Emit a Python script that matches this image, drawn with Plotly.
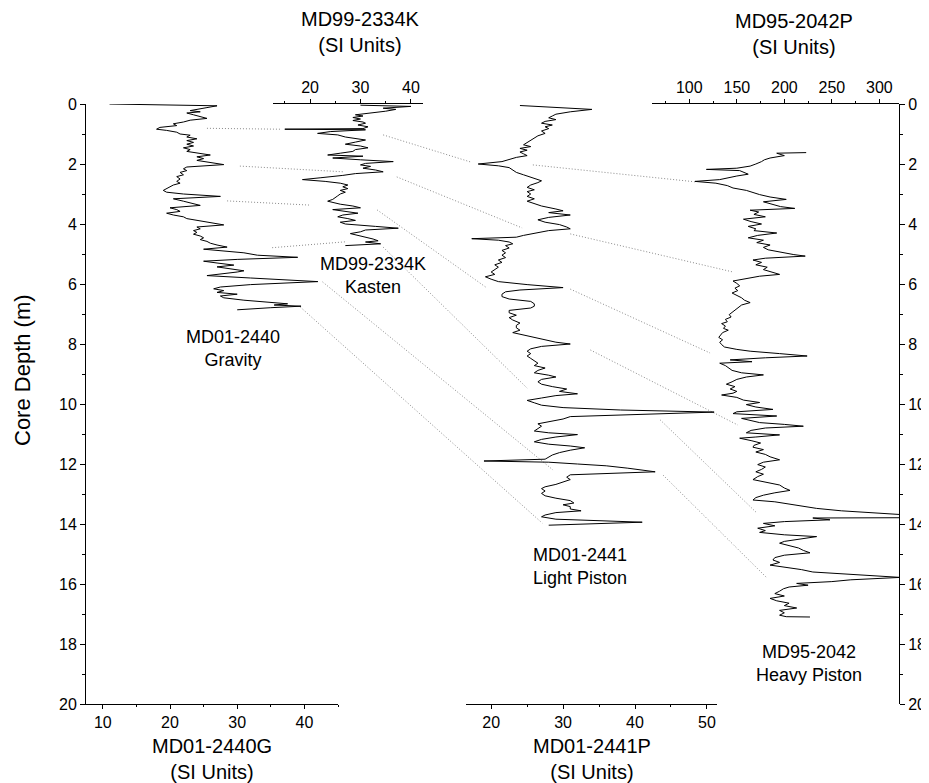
import plotly.graph_objects as go

# ---------------- data (depth in m, magnetic susceptibility in SI units) ----------------
g_depth = [0.00, 0.06, 0.12, 0.18, 0.22, 0.26, 0.30, 0.36, 0.42, 0.48, 0.54, 0.60, 0.66, 0.72, 0.78, 0.84, 0.88, 0.94,
           1.00, 1.04, 1.10, 1.16, 1.22, 1.28, 1.34, 1.40, 1.46, 1.52, 1.58, 1.64, 1.70, 1.76, 1.82, 1.88, 1.94,
           2.02, 2.10, 2.16, 2.22, 2.28, 2.36, 2.42, 2.50, 2.58, 2.64, 2.70, 2.76, 2.82, 2.88, 2.94,
           3.00, 3.08, 3.16, 3.24, 3.32, 3.38, 3.46, 3.52, 3.58, 3.64, 3.70, 3.76, 3.82, 3.90, 3.96,
           4.03, 4.10, 4.16, 4.22, 4.28, 4.34, 4.40, 4.46, 4.52, 4.58, 4.64, 4.70, 4.77, 4.84, 4.90, 4.96,
           5.04, 5.11, 5.18, 5.24, 5.30, 5.37, 5.43, 5.50, 5.56, 5.60, 5.66, 5.72, 5.80, 5.92,
           6.02, 6.10, 6.16, 6.22, 6.28, 6.34, 6.40, 6.46, 6.54, 6.62, 6.66, 6.70, 6.74, 6.79, 6.86]
g_value = [11.0, 27.0, 25.5, 24.0, 23.0, 24.5, 22.5, 23.5, 24.5, 25.5, 23.0, 22.0, 20.5, 21.0, 18.5, 18.0, 19.5, 21.0,
           21.5, 23.0, 22.5, 24.0, 22.5, 23.5, 22.5, 23.5, 22.0, 23.0, 22.5, 24.0, 26.0, 24.0, 25.0, 24.0, 26.0,
           28.0, 22.5, 22.0, 22.5, 21.5, 22.0, 21.0, 21.5, 21.0, 21.5, 20.5, 20.0, 19.5, 19.0, 19.5,
           22.0, 27.5, 20.5, 22.0, 23.5, 24.5, 20.0, 21.0, 21.5, 19.5, 20.5, 22.0, 22.5, 24.5, 26.0,
           28.0, 24.0, 24.5, 23.5, 24.0, 23.5, 24.5, 25.0, 24.5, 25.5, 26.0, 27.0, 28.5, 25.0, 27.5, 31.0,
           33.0, 39.0, 30.0, 25.0, 27.0, 29.5, 27.0, 29.0, 31.0, 30.0, 27.5, 25.5, 32.0, 42.0,
           32.0, 27.5, 26.5, 28.0, 27.0, 30.0, 27.5, 28.0, 31.0, 36.0, 37.5, 35.5, 39.5, 35.0, 30.0]

k_depth = [0.04, 0.08, 0.14, 0.18, 0.24, 0.30, 0.36, 0.40, 0.45, 0.50, 0.55, 0.60, 0.64, 0.70, 0.76, 0.82, 0.84, 0.86,
           0.92, 0.98, 1.03, 1.10, 1.16, 1.20, 1.27, 1.34, 1.40, 1.46, 1.52, 1.58, 1.64, 1.70, 1.74, 1.80, 1.86, 1.92,
           1.98, 2.03, 2.08, 2.14, 2.20, 2.26, 2.32, 2.38, 2.46, 2.52, 2.58, 2.64, 2.70, 2.76, 2.82, 2.88, 2.94,
           3.00, 3.06, 3.12, 3.18, 3.24, 3.28, 3.34, 3.40, 3.46, 3.52, 3.58, 3.64, 3.70, 3.76, 3.82, 3.88, 3.94,
           4.00, 4.08, 4.14, 4.20, 4.26, 4.32, 4.38, 4.44, 4.50, 4.56, 4.60, 4.66, 4.72]
k_value = [30.0, 40.0, 34.5, 37.0, 35.0, 31.5, 29.0, 30.5, 28.5, 30.0, 28.5, 30.5, 31.0, 29.5, 31.5, 30.5, 15.0, 31.0,
           24.0, 21.5, 25.5, 27.0, 29.5, 31.0, 29.0, 27.0, 30.0, 31.5, 29.0, 28.5, 26.0, 23.5, 30.5, 24.5, 30.0, 36.5,
           31.0, 30.0, 32.0, 30.5, 33.0, 34.5, 29.0, 26.5, 22.0, 18.5, 23.0, 26.0, 27.5, 26.5, 27.5, 26.0, 27.0,
           26.0, 25.5, 25.0, 24.5, 23.5, 24.5, 26.0, 28.5, 30.0, 24.5, 27.0, 29.5, 26.5, 25.5, 27.5, 29.0, 26.0,
           27.0, 33.0, 37.5, 31.0, 30.0, 28.0, 29.5, 31.5, 32.5, 33.5, 31.0, 34.0, 27.0]

p_depth = [0.05, 0.18, 0.26, 0.34, 0.40, 0.46, 0.52, 0.58, 0.64, 0.70, 0.76, 0.82, 0.90, 0.98, 1.06, 1.14, 1.22, 1.30,
           1.36, 1.42, 1.48, 1.54, 1.60, 1.66, 1.72, 1.78, 1.86, 1.92, 2.00, 2.06, 2.12, 2.20, 2.28, 2.36, 2.44, 2.50,
           2.56, 2.62, 2.70, 2.78, 2.86, 2.92, 3.00, 3.08, 3.16, 3.24, 3.32, 3.40, 3.50, 3.56, 3.62, 3.70, 3.78, 3.86,
           3.94, 4.02, 4.10, 4.16, 4.22, 4.30, 4.38, 4.44, 4.49, 4.54, 4.60, 4.66, 4.72, 4.80, 4.88, 4.96, 5.04, 5.12,
           5.20, 5.28, 5.36, 5.44, 5.52, 5.60, 5.68, 5.76, 5.84, 5.92, 6.02, 6.12, 6.20, 6.26, 6.34, 6.42, 6.50, 6.58,
           6.66, 6.74, 6.80, 6.88, 6.96, 7.04, 7.12, 7.20, 7.30, 7.38, 7.46, 7.54, 7.62, 7.70, 7.78, 7.86, 7.94, 8.00,
           8.08, 8.16, 8.24, 8.32, 8.40, 8.48, 8.56, 8.64, 8.72, 8.80, 8.88, 8.96, 9.04, 9.10, 9.18, 9.26, 9.34, 9.42,
           9.50, 9.58, 9.66, 9.72, 9.80, 9.88, 9.96, 10.04, 10.12, 10.20, 10.27, 10.34, 10.42, 10.50, 10.58, 10.66,
           10.74, 10.82, 10.90, 10.96, 11.02, 11.10, 11.18, 11.26, 11.34, 11.40, 11.46, 11.54, 11.62, 11.70, 11.78,
           11.84, 11.90, 11.94, 12.00, 12.06, 12.14, 12.26, 12.36, 12.44, 12.52, 12.60, 12.68, 12.76, 12.82, 12.90,
           12.98, 13.06, 13.14, 13.22, 13.30, 13.36, 13.42, 13.50, 13.56, 13.62, 13.70, 13.76, 13.84, 13.94, 14.04]
p_value = [24.0, 34.0, 31.0, 29.0, 28.5, 28.0, 29.0, 27.5, 27.0, 28.5, 27.5, 28.0, 27.0, 27.5, 26.5, 26.0, 25.5, 25.0,
           24.5, 25.5, 24.0, 25.0, 24.0, 24.5, 25.0, 23.5, 22.5, 21.5, 18.2, 21.0, 22.5, 23.0, 23.5, 24.5, 25.5, 26.5,
           27.0, 26.5, 25.5, 25.0, 26.0, 25.0, 25.5, 25.0, 26.0, 25.0, 26.0, 27.0, 29.0, 30.0, 28.0, 31.0, 28.0, 26.5,
           27.5, 29.5, 30.5, 31.0, 28.0, 26.0, 24.5, 23.5, 17.3, 21.0, 22.5, 23.0, 22.0, 22.5, 21.5, 22.0, 21.5, 22.0,
           21.0, 21.5, 20.5, 21.0, 20.5, 20.0, 20.5, 19.2, 20.0, 21.0, 25.0, 30.0, 24.0, 22.0, 21.5, 21.5, 22.5, 25.5,
           26.0, 26.0, 25.5, 22.5, 22.5, 23.5, 22.5, 23.0, 24.0, 23.5, 23.5, 24.0, 23.0, 24.5, 26.0, 27.5, 29.0, 31.0,
           27.0, 25.5, 25.0, 25.5, 25.0, 25.5, 26.0, 26.5, 26.0, 27.5, 26.5, 26.0, 28.0, 29.0, 27.0, 26.5, 27.0, 28.5,
           30.5, 29.5, 32.0, 29.0, 27.0, 25.0, 26.0, 27.0, 30.0, 38.0, 51.0, 40.0, 31.0, 30.0, 28.0, 26.5,
           27.0, 26.5, 26.0, 28.0, 32.0, 29.0, 27.0, 26.0, 28.0, 31.0, 33.0, 31.0, 29.5, 28.5, 28.0,
           27.5, 19.0, 28.0, 32.0, 36.0, 39.0, 42.8, 31.0, 30.5, 31.0, 30.0, 29.0, 27.5, 27.0, 27.5,
           27.0, 27.5, 29.0, 31.0, 31.5, 30.0, 31.0, 31.0, 32.5, 29.0, 27.5, 27.0, 29.0, 41.0, 28.0]

h_depth = [1.62, 1.64, 1.72, 1.80, 1.86, 1.92, 2.00, 2.07, 2.14, 2.18, 2.22, 2.28, 2.34, 2.40, 2.46, 2.52, 2.58, 2.64,
           2.72, 2.80, 2.88, 2.94, 3.02, 3.10, 3.18, 3.26, 3.34, 3.42, 3.48, 3.54, 3.60, 3.68, 3.76, 3.84, 3.92, 4.00,
           4.08, 4.16, 4.22, 4.30, 4.38, 4.46, 4.54, 4.62, 4.70, 4.78, 4.86, 4.94, 5.02, 5.07, 5.14, 5.20, 5.28, 5.36,
           5.44, 5.52, 5.60, 5.68, 5.74, 5.82, 5.90, 5.98, 6.06, 6.14, 6.22, 6.30, 6.38, 6.46, 6.54, 6.62, 6.70, 6.78,
           6.86, 6.94, 7.02, 7.10, 7.18, 7.26, 7.32, 7.40, 7.48, 7.54, 7.62, 7.70, 7.78, 7.86, 7.94, 8.02, 8.10, 8.18,
           8.24, 8.32, 8.40, 8.46, 8.53, 8.59, 8.64, 8.72, 8.80, 8.88, 8.96, 9.03, 9.10, 9.18, 9.26, 9.34, 9.42, 9.50,
           9.58, 9.64, 9.70, 9.78, 9.87, 9.95, 10.02, 10.10, 10.18, 10.26, 10.32, 10.40, 10.48, 10.56, 10.62, 10.68,
           10.74, 10.80, 10.88, 10.96, 11.03, 11.10, 11.14, 11.22, 11.30, 11.38, 11.44, 11.52, 11.60, 11.68, 11.76,
           11.86, 11.94, 12.02, 12.10, 12.18, 12.26, 12.34, 12.42, 12.52, 12.60, 12.70, 12.80, 12.88, 12.96, 13.04,
           13.12, 13.20, 13.26, 13.32, 13.40, 13.48, 13.56, 13.62, 13.70, 13.79, 13.80, 13.86, 13.92, 13.98, 14.06,
           14.14, 14.22, 14.28, 14.36, 14.42, 14.50, 14.58, 14.64, 14.72, 14.80, 14.88, 14.96, 15.04, 15.12, 15.20,
           15.28, 15.37, 15.46, 15.52, 15.60, 15.68, 15.78, 15.86, 15.92, 15.98, 16.04, 16.10, 16.16, 16.24, 16.32,
           16.40, 16.48, 16.56, 16.64, 16.72, 16.80, 16.88, 16.96, 17.04, 17.09, 17.10]
h_value = [223, 192, 200, 185, 179, 176, 170, 164, 150, 118, 153, 158, 162, 150, 140, 132, 106, 128,
           140, 146, 160, 166, 174, 185, 202, 178, 188, 196, 211, 164, 173, 168, 180, 157, 165, 176,
           162, 170, 168, 192, 172, 162, 178, 171, 185, 178, 183, 195, 210, 222, 180, 167, 176, 170,
           182, 178, 186, 195, 174, 160, 146, 150, 153, 148, 151, 145, 150, 155, 158, 164, 155, 152,
           148, 146, 142, 144, 138, 140, 134, 138, 136, 141, 135, 133, 131, 135, 132, 134, 137, 150,
           164, 195, 224, 180, 143, 166, 132, 138, 141, 145, 155, 178, 160, 150, 145, 139, 148, 143,
           150, 146, 134, 150, 157, 174, 160, 170, 188, 150, 146, 192, 155, 166, 174, 200,
           220, 180, 165, 160, 195, 170, 153, 165, 175, 168, 167, 178, 170, 180, 185,
           195, 178, 172, 180, 176, 170, 178, 172, 167, 180, 195, 200, 206, 190, 178,
           170, 167, 190, 202, 215, 234, 260, 287, 330, 330, 230, 248, 200, 178, 190,
           172, 180, 174, 200, 234, 215, 200, 195, 205, 215, 220, 227, 200, 190, 188,
           195, 185, 205, 218, 230, 270, 322, 270, 250, 213, 225, 205, 199, 195, 190,
           200, 185, 192, 205, 200, 213, 195, 200, 195, 202, 227]

# tie points between cores: (core, depth, value) -> (core, depth, value)
tie_from_core = ["G", "G", "G", "G", "K", "K", "K", "K", "G", "G", "P", "P", "P", "P", "P", "P"]
tie_from_depth = [0.81, 2.07, 3.23, 4.79, 1.03, 2.43, 3.53, 4.77, 5.93, 6.77, 2.03, 4.33, 6.17, 8.20, 10.53, 12.37]
tie_from_value = [25.5, 30.4, 28.5, 35.2, 34.5, 37.2, 33.3, 34.5, 42.7, 39.4, 25.8, 31.0, 31.0, 33.8, 43.5, 43.9]
tie_to_core = ["K", "K", "K", "K", "P", "P", "P", "P", "P", "P", "H", "H", "H", "H", "H", "H"]
tie_to_depth = [0.84, 2.26, 3.37, 4.59, 1.93, 4.13, 6.13, 9.47, 12.20, 13.97, 2.60, 5.60, 8.30, 10.70, 13.63, 15.80]
tie_to_value = [14.1, 26.6, 20.0, 27.3, 17.1, 24.3, 19.4, 25.0, 28.6, 27.1, 108.0, 146.0, 121.8, 151.0, 171.0, 181.8]

core_labels = ["MD01-2440<br>Gravity", "MD99-2334K<br>Kasten", "MD01-2441<br>Light Piston", "MD95-2042<br>Heavy Piston"]
axis_titles = ["MD01-2440G<br>(SI Units)", "MD01-2441P<br>(SI Units)", "MD99-2334K<br>(SI Units)", "MD95-2042P<br>(SI Units)"]
depth_title = "Core Depth (m)"

# ---------------- layout geometry ----------------
W, H = 929, 783
OFF = 8  # page body margin of the html page


def fx(px):
    return (px - OFF) / W


def fy(py):
    return 1 - (py - OFF) / H


FONT = "Arial, Liberation Sans, sans-serif"
AX = {
    "G": dict(name="xaxis", domain=(fx(86), fx(338)), range=(7.5, 45.0), side="bottom", dtick=10, minor=5),
    "P": dict(name="xaxis2", domain=(fx(466), fx(717)), range=(16.5, 51.4), side="bottom", dtick=10, minor=5),
    "K": dict(name="xaxis3", domain=(fx(272.7), fx(423)), range=(12.6, 42.4), side="top", dtick=10, minor=5),
    "H": dict(name="xaxis4", domain=(fx(651.7), fx(899)), range=(60.4, 320.7), side="top", dtick=50, minor=25),
}
Y_DOMAIN = (fy(704), fy(104))


def to_paper(core, v):
    a = AX[core]
    d0, d1 = a["domain"]
    r0, r1 = a["range"]
    return d0 + (v - r0) / (r1 - r0) * (d1 - d0)


fig = go.Figure()
line = dict(color="black", width=1)
fig.add_trace(go.Scatter(x=g_value, y=g_depth, mode="lines", line=line, xaxis="x", yaxis="y", showlegend=False))
fig.add_trace(go.Scatter(x=p_value, y=p_depth, mode="lines", line=line, xaxis="x2", yaxis="y", showlegend=False))
fig.add_trace(go.Scatter(x=k_value, y=k_depth, mode="lines", line=line, xaxis="x3", yaxis="y", showlegend=False))
fig.add_trace(go.Scatter(x=h_value, y=h_depth, mode="lines", line=line, xaxis="x4", yaxis="y2", showlegend=False))

tick_font = dict(family=FONT, size=16, color="black")
layout = dict(
    template="none",
    width=W, height=H, autosize=False,
    margin=dict(l=0, r=0, t=0, b=0, pad=0),
    paper_bgcolor="white", plot_bgcolor="rgba(0,0,0,0)",
    showlegend=False,
    font=dict(family=FONT, color="black"),
)
for key, a in AX.items():
    layout[a["name"]] = dict(
        domain=list(a["domain"]), range=list(a["range"]), side=a["side"],
        anchor="y2" if key == "H" else "y", automargin=False,
        showline=True, linecolor="black", linewidth=1, mirror=False,
        ticks="outside", ticklen=4, tickwidth=1, tickcolor="black",
        tick0=0, dtick=a["dtick"], tickfont=tick_font,
        minor=dict(ticks="outside", ticklen=2, tickwidth=1, tickcolor="black", dtick=a["minor"], tick0=0, showgrid=False),
        showgrid=False, zeroline=False, fixedrange=True,
    )
ycommon = dict(
    domain=list(Y_DOMAIN), range=[20, 0], showline=True, linecolor="black", linewidth=1, automargin=False,
    ticks="outside", ticklen=5, tickwidth=1, tickcolor="black", tick0=0, dtick=2, tickfont=tick_font,
    minor=dict(ticks="outside", ticklen=3, tickwidth=1, tickcolor="black", dtick=1, tick0=0, showgrid=False),
    showgrid=False, zeroline=False, fixedrange=True,
)
layout["yaxis"] = dict(ycommon, anchor="x", side="left")
layout["yaxis2"] = dict(ycommon, overlaying="y", anchor="free", position=fx(899), side="right")
fig.update_layout(**layout)

# tie lines
shapes = []
for i in range(len(tie_from_core)):
    shapes.append(dict(
        type="line", xref="paper", yref="y",
        x0=to_paper(tie_from_core[i], tie_from_value[i]), y0=tie_from_depth[i],
        x1=to_paper(tie_to_core[i], tie_to_value[i]), y1=tie_to_depth[i],
        line=dict(color="#8a8a8a", width=1, dash="1px,2px"), layer="below",
    ))
fig.update_layout(shapes=shapes)

ann = []
lab_font = dict(family=FONT, size=18, color="black")
ttl_font = dict(family=FONT, size=20, color="black")
lab_pos = [(233, 348), (373, 276), (580, 566), (809, 663)]
for t, (px, py) in zip(core_labels, lab_pos):
    ann.append(dict(text=t, x=fx(px), y=fy(py), xref="paper", yref="paper", showarrow=False,
                    xanchor="center", yanchor="middle", font=lab_font, align="center"))
ttl_pos = [(212, 759), (591.5, 759), (360, 32), (794, 34)]
for t, (px, py) in zip(axis_titles, ttl_pos):
    ann.append(dict(text=t, x=fx(px), y=fy(py), xref="paper", yref="paper", showarrow=False,
                    xanchor="center", yanchor="middle", font=ttl_font, align="center"))
ann.append(dict(text=depth_title, x=fx(22), y=fy(370), xref="paper", yref="paper", showarrow=False,
                xanchor="center", yanchor="middle", textangle=-90, font=dict(family=FONT, size=22, color="black")))
fig.update_layout(annotations=ann)

fig.write_html("out.html")
